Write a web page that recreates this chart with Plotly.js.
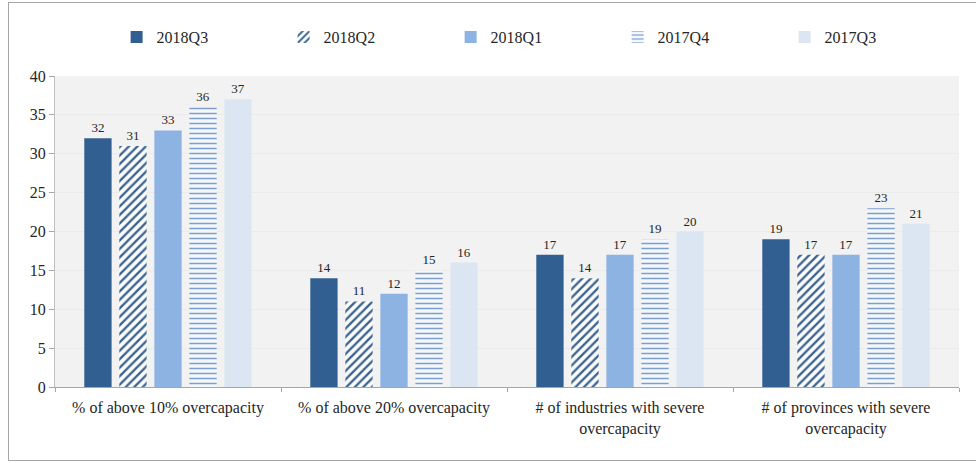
<!DOCTYPE html>
<html>
<head>
<meta charset="utf-8">
<script src="https://cdn.plot.ly/plotly-3.0.1.min.js"></script>
<style>
html,body{margin:0;padding:0;background:#fff;}
#wrap{position:relative;width:976px;height:463px;}
#chart{width:976px;height:463px;}
#frame{position:absolute;left:8px;top:2px;width:968px;height:459px;border:1px solid #a6a6a6;border-right:none;box-sizing:border-box;pointer-events:none;}
</style>
</head>
<body>
<div id="wrap"><div id="chart"></div><div id="frame"></div></div>
<script>
const categories = [
  "% of above 10% overcapacity",
  "% of above 20% overcapacity",
  "# of industries with severe<br>overcapacity",
  "# of provinces with severe<br>overcapacity"
];
const seriesNames = ["2018Q3", "2018Q2", "2018Q1", "2017Q4", "2017Q3"];
const v2018Q3 = [32, 14, 17, 19];
const v2018Q2 = [31, 11, 14, 17];
const v2018Q1 = [33, 12, 17, 17];
const v2017Q4 = [36, 15, 19, 23];
const v2017Q3 = [37, 16, 20, 21];
const yTicks = [0, 5, 10, 15, 20, 25, 30, 35, 40];

const FONT = "'Times New Roman', 'Liberation Serif', 'DejaVu Serif', serif";
const values = [v2018Q3, v2018Q2, v2018Q1, v2017Q4, v2017Q3];
const markers = [
  {color: "#325f91"},
  {color: "#ffffff", pattern: {shape: "/", fgcolor: "#3d6591", bgcolor: "#ffffff", size: 6, solidity: 0.4}},
  {color: "#8db3e2"},
  {color: "#ffffff", pattern: {shape: "-", fgcolor: "#7d9fd0", bgcolor: "#f4f7fb", size: 5, solidity: 0.3}},
  {color: "#dce6f2"}
];

const traces = seriesNames.map((name, i) => ({
  type: "bar",
  name: name,
  x: categories,
  y: values[i],
  text: values[i].map(String),
  textposition: "outside",
  textfont: {family: FONT, size: 13, color: "#262626"},
  cliponaxis: false,
  marker: Object.assign({line: {width: 0}}, markers[i]),
  hoverinfo: "x+y+name"
}));

const layout = {
  width: 976,
  height: 463,
  margin: {l: 55, r: 17, t: 76, b: 76},
  paper_bgcolor: "#ffffff",
  plot_bgcolor: "#f2f2f2",
  barmode: "group",
  bargap: 0.225,
  bargroupgap: 0.22,
  font: {family: FONT, size: 15, color: "#262626"},
  showlegend: true,
  legend: {
    orientation: "h",
    x: 0.53, xanchor: "center",
    y: 1.125, yanchor: "middle",
    font: {family: FONT, size: 16, color: "#262626"},
    itemwidth: 30,
    traceorder: "normal",
    entrywidth: 122,
    entrywidthmode: "pixels",
    bgcolor: "rgba(0,0,0,0)"
  },
  xaxis: {
    type: "category",
    showline: true,
    linecolor: "#a6a6a6",
    linewidth: 1,
    ticks: "outside",
    tickson: "boundaries",
    ticklen: 4,
    tickcolor: "#a6a6a6",
    ticklabelstandoff: 6,
    tickfont: {family: FONT, size: 16, color: "#262626"},
    showgrid: false,
    fixedrange: true
  },
  yaxis: {
    range: [0, 40],
    tickvals: yTicks,
    ticktext: yTicks.map(String),
    showline: true,
    linecolor: "#bfbfbf",
    ticks: "outside",
    ticklen: 5,
    tickcolor: "#a6a6a6",
    tickfont: {family: FONT, size: 16, color: "#262626"},
    showgrid: true,
    gridcolor: "#ebebeb",
    zeroline: false,
    fixedrange: true
  }
};

Plotly.newPlot("chart", traces, layout, {displayModeBar: false, staticPlot: true});
</script>
</body>
</html>
